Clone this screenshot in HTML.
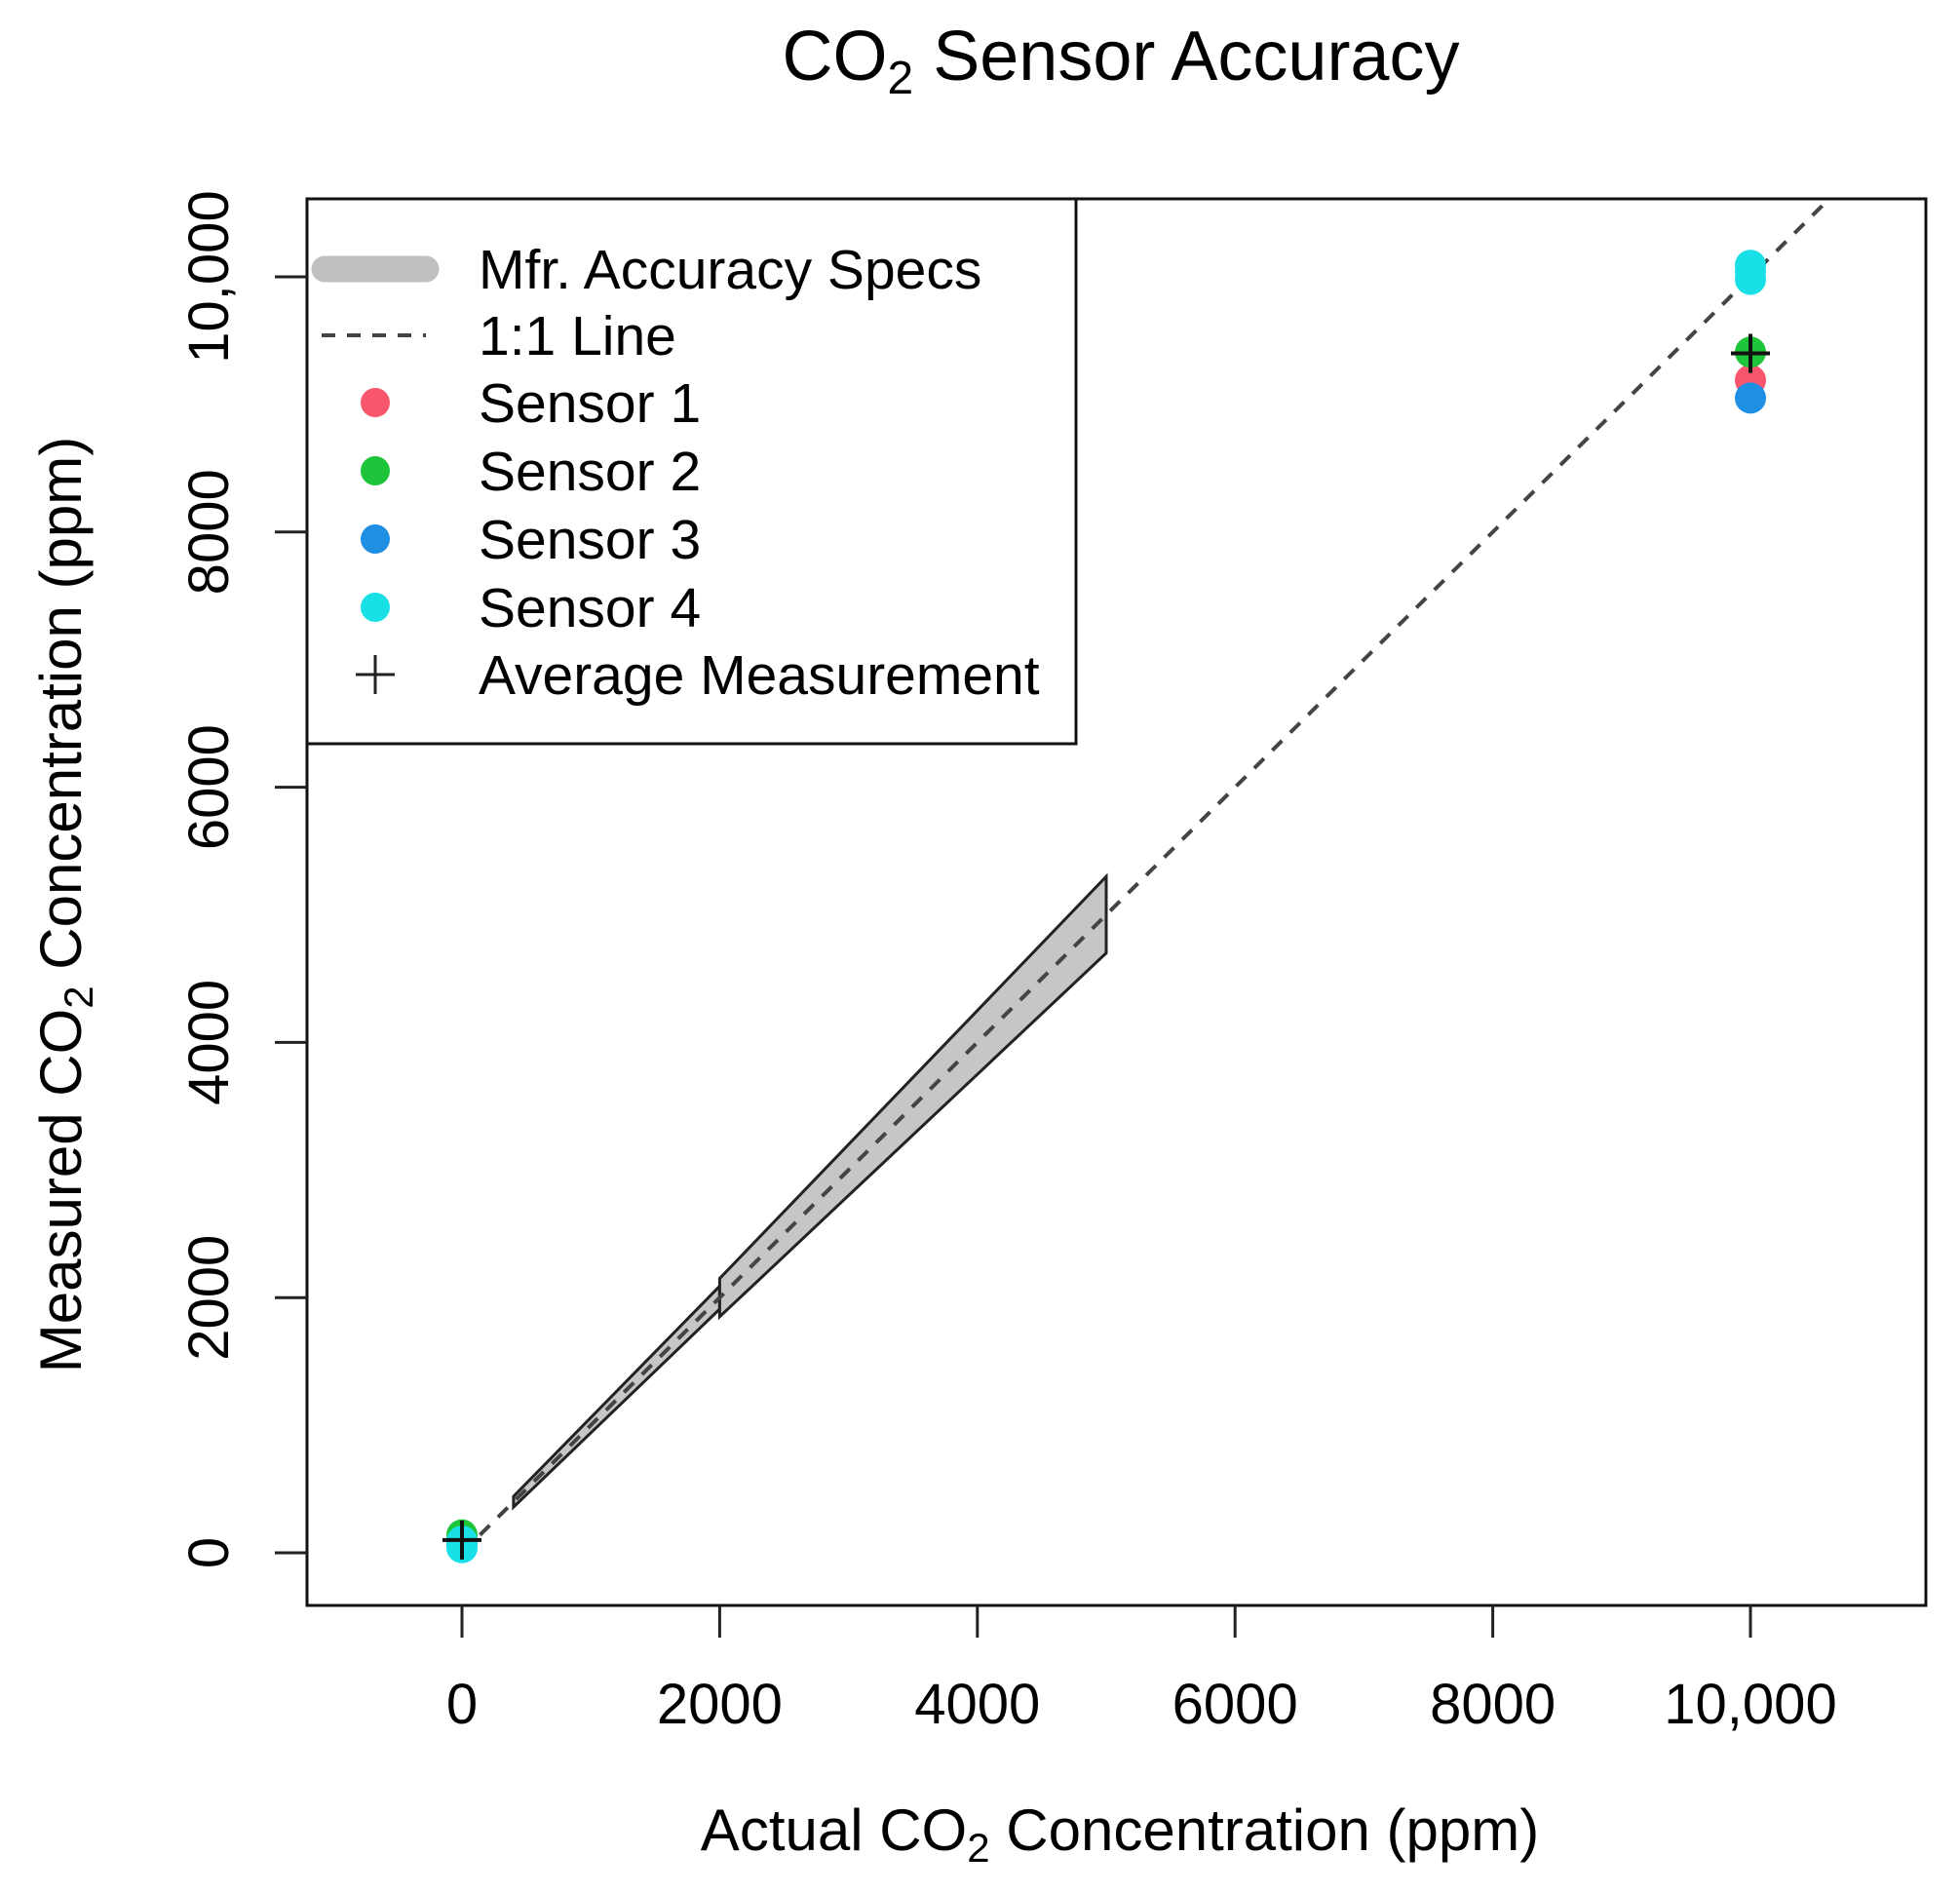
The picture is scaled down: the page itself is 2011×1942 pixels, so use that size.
<!DOCTYPE html>
<html><head><meta charset="utf-8">
<style>
html,body{margin:0;padding:0;background:#fff;}
svg{display:block;font-family:"Liberation Sans",Arial,sans-serif;}
</style></head>
<body>
<svg id="chart" width="2011" height="1942" viewBox="0 0 2011 1942" xmlns="http://www.w3.org/2000/svg">
<text x="1150" y="82" font-size="72" text-anchor="middle">CO<tspan font-size="48" dy="14">2</tspan><tspan dy="-14"> Sensor Accuracy</tspan></text>
<text x="1149" y="1898" font-size="60" text-anchor="middle">Actual CO<tspan font-size="42" dy="12">2</tspan><tspan dy="-12"> Concentration (ppm)</tspan></text>
<text transform="translate(83,928) rotate(-90)" font-size="60" text-anchor="middle">Measured CO<tspan font-size="42" dy="12">2</tspan><tspan dy="-12"> Concentration (ppm)</tspan></text>
<g id="plot"></g>
<rect x="315" y="204" width="1661" height="1443" fill="none" stroke="#111" stroke-width="3"/>
<g id="legend">
  <rect x="315" y="204" width="789" height="559" fill="#fff" stroke="#111" stroke-width="3"/>
  <line x1="333" y1="276" x2="437" y2="276" stroke="#c0c0c0" stroke-width="27" stroke-linecap="round"/>
  <text x="491" y="296" font-size="57">Mfr. Accuracy Specs</text>
  <line x1="330" y1="344" x2="437" y2="344" stroke="#444" stroke-width="4" stroke-dasharray="14,12"/>
  <text x="491" y="364" font-size="57">1:1 Line</text>
  <circle cx="385" cy="413" r="15" fill="#f7566c"/>
  <text x="491" y="433" font-size="57">Sensor 1</text>
  <circle cx="385" cy="483" r="15" fill="#1ec53a"/>
  <text x="491" y="503" font-size="57">Sensor 2</text>
  <circle cx="385" cy="553" r="15" fill="#1e8fe3"/>
  <text x="491" y="573" font-size="57">Sensor 3</text>
  <circle cx="385" cy="623" r="15" fill="#18e0e6"/>
  <text x="491" y="643" font-size="57">Sensor 4</text>
  <path d="M365 692 H405 M385 672 V712" stroke="#222" stroke-width="3"/>
  <text x="491" y="712" font-size="57">Average Measurement</text>
</g>
</svg>
<script>
const xTicks = [0, 2000, 4000, 6000, 8000, 10000];
const xTickLabels = ["0", "2000", "4000", "6000", "8000", "10,000"];
const yTicks = [0, 2000, 4000, 6000, 8000, 10000];
const yTickLabels = ["0", "2000", "4000", "6000", "8000", "10,000"];
const bandLowX = [400, 2000];
const bandLowUpper = [442, 2090];
const bandLowLower = [358, 1910];
const bandHighX = [2000, 5000];
const bandHighUpper = [2150, 5300];
const bandHighLower = [1850, 4700];
const lineX = [0, 10600];
const sensor1X = [0, 10000];
const sensor1Y = [90, 9190];
const sensor2X = [0, 10000];
const sensor2Y = [140, 9410];
const sensor3X = [0, 10000];
const sensor3Y = [70, 9050];
const sensor4X = [0, 0, 10000, 10000, 10000];
const sensor4Y = [40, 90, 9980, 10040, 10090];
const avgX = [0, 10000];
const avgY = [100, 9400];

const NS = "http://www.w3.org/2000/svg";
const X0 = 474, XK = 0.1322, Y0 = 1593, YK = 0.1309;
function sx(v){ return X0 + v * XK; }
function sy(v){ return Y0 - v * YK; }
const plot = document.getElementById('plot');
const svg = document.getElementById('chart');
function mk(tag, parent){ const e = document.createElementNS(NS, tag); parent.appendChild(e); return e; }

xTicks.forEach((v, i) => {
  const t = mk('line', svg);
  
  
  t.setAttribute('x1', sx(v)); t.setAttribute('x2', sx(v));
  t.setAttribute('y1', 1647); t.setAttribute('y2', 1680);
  t.setAttribute('stroke', '#222'); t.setAttribute('stroke-width', 3);
  const l = mk('text', svg);
  
  
  l.setAttribute('x', sx(v)); l.setAttribute('y', 1768);
  l.setAttribute('font-size', 58); l.setAttribute('text-anchor', 'middle');
  l.textContent = xTickLabels[i];
});
yTicks.forEach((v, i) => {
  const t = mk('line', svg);
  
  
  t.setAttribute('x1', 282); t.setAttribute('x2', 315);
  t.setAttribute('y1', sy(v)); t.setAttribute('y2', sy(v));
  t.setAttribute('stroke', '#222'); t.setAttribute('stroke-width', 3);
  const l = mk('text', svg);
  
  
  l.setAttribute('transform', 'translate(234,' + sy(v) + ') rotate(-90)');
  l.setAttribute('font-size', 58); l.setAttribute('text-anchor', 'middle');
  l.textContent = yTickLabels[i];
});

function band(xs, up, lo, name){
  const pts = [];
  for (let i = 0; i < xs.length; i++) pts.push(sx(xs[i]) + ',' + sy(up[i]));
  for (let i = xs.length - 1; i >= 0; i--) pts.push(sx(xs[i]) + ',' + sy(lo[i]));
  const p = mk('polygon', plot);
  
  
  p.setAttribute('points', pts.join(' '));
  p.setAttribute('fill', '#c6c6c6'); p.setAttribute('stroke', '#222'); p.setAttribute('stroke-width', 3);
}
band(bandLowX, bandLowUpper, bandLowLower, 'accuracy-band-low');
band(bandHighX, bandHighUpper, bandHighLower, 'accuracy-band-high');

const ln = mk('line', plot);


ln.setAttribute('x1', sx(lineX[0])); ln.setAttribute('y1', sy(lineX[0]));
ln.setAttribute('x2', sx(lineX[1])); ln.setAttribute('y2', sy(lineX[1]));
ln.setAttribute('stroke', '#444'); ln.setAttribute('stroke-width', 4); ln.setAttribute('stroke-dasharray', '14,12');

function pts(xs, ys, color, name){
  xs.forEach((v, i) => {
    const c = mk('circle', plot);
    
    
    c.setAttribute('cx', sx(v)); c.setAttribute('cy', sy(ys[i])); c.setAttribute('r', 16);
    c.setAttribute('fill', color);
  });
}
pts(sensor1X, sensor1Y, '#f7566c', 'sensor1-point');
pts(sensor3X, sensor3Y, '#1e8fe3', 'sensor3-point');
pts(sensor2X, sensor2Y, '#1ec53a', 'sensor2-point');
pts(sensor4X, sensor4Y, '#18e0e6', 'sensor4-point');
avgX.forEach((v, i) => {
  const p = mk('path', plot);
  
  
  const x = sx(v), y = sy(avgY[i]);
  p.setAttribute('d', 'M' + (x - 20) + ' ' + y + ' H' + (x + 20) + ' M' + x + ' ' + (y - 20) + ' V' + (y + 20));
  p.setAttribute('stroke', '#111'); p.setAttribute('stroke-width', 4);
});
</script>
</body></html>
